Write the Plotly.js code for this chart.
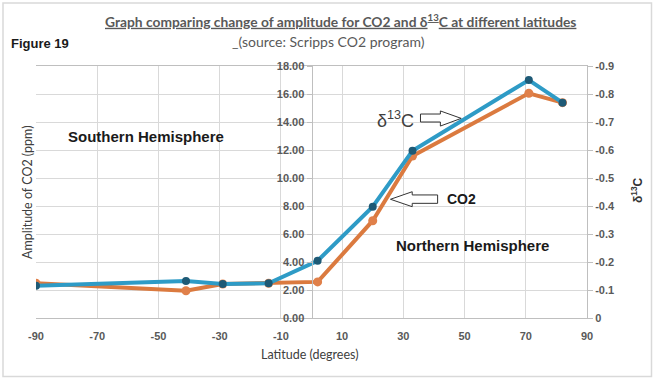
<!DOCTYPE html>
<html>
<head>
<meta charset="utf-8">
<script src="https://cdn.plot.ly/plotly-3.0.1.min.js"></script>
<style>html,body{margin:0;padding:0;background:#fff;}#chart{width:654px;height:379px;}</style>
</head>
<body>
<div id="chart"></div>
<script>
// Latitude (degrees) of each station
const latitude = [-90, -41, -29, -14, 2, 20, 33, 71, 82];
// Amplitude of CO2 (ppm) – left axis
const co2Amplitude = [2.48, 1.95, 2.43, 2.48, 2.58, 6.95, 11.57, 16.05, 15.38];
// Amplitude of δ13C – right axis
const d13cAmplitude = [-0.1155, -0.132, -0.1215, -0.124, -0.2045, -0.3975, -0.5975, -0.85, -0.769];
// Tick labels
const xTickVals = [-90, -70, -50, -30, -10, 10, 30, 50, 70, 90];
const xTickText = ['-90', '-70', '-50', '-30', '-10', '10', '30', '50', '70', '90'];
const yTickVals = [0, 2, 4, 6, 8, 10, 12, 14, 16, 18];
const yTickText = ['0.00', '2.00', '4.00', '6.00', '8.00', '10.00', '12.00', '14.00', '16.00', '18.00'];
const y2TickVals = [0, -0.1, -0.2, -0.3, -0.4, -0.5, -0.6, -0.7, -0.8, -0.9];
const y2TickText = ['0', '-0.1', '-0.2', '-0.3', '-0.4', '-0.5', '-0.6', '-0.7', '-0.8', '-0.9'];

const W = 654, H = 379, L = 36, R = 67, T = 66, B = 61;
const pw = W - L - R, ph = H - T - B;
const px = p => (p - L) / pw;          // pixel x -> paper
const py = p => (H - B - p) / ph;      // pixel y -> paper

const narrow = 'Lato, "Open Sans", sans-serif';
const arial = '"Liberation Sans", Arial, sans-serif';
const tickFont = {family: arial, size: 11, color: '#595959', weight: 'bold'};

const traces = [
  {
    x: latitude, y: d13cAmplitude, yaxis: 'y2', type: 'scatter', mode: 'lines+markers',
    name: 'δ13C', line: {color: '#2e9bc6', width: 4},
    marker: {color: '#1e5a76', size: 8}
  },
  {
    x: latitude, y: co2Amplitude, yaxis: 'y', type: 'scatter', mode: 'lines+markers',
    name: 'CO2', line: {color: '#db7a3f', width: 4},
    marker: {color: '#e0804a', size: 9}
  }
];

function arrowPath(pts) {
  return 'M' + pts.map(p => p[0] + ',' + p[1]).join(' L') + ' Z';
}

const layout = {
  width: W, height: H,
  margin: {l: L, r: R, t: T, b: B, pad: 0},
  paper_bgcolor: '#ffffff', plot_bgcolor: '#ffffff',
  showlegend: false,
  xaxis: {
    range: [-90, 90], tickvals: xTickVals, ticktext: xTickText,
    showgrid: true, gridcolor: '#d9d9d9', gridwidth: 1,
    zeroline: false, showline: true, linecolor: '#bfbfbf', mirror: true,
    ticks: '', ticklabelstandoff: 8, tickfont: tickFont, fixedrange: true
  },
  yaxis: {
    range: [0, 18], tickvals: yTickVals, ticktext: yTickText,
    anchor: 'free', position: 0.5,
    showgrid: true, gridcolor: '#d9d9d9', gridwidth: 1,
    zeroline: false, showline: true, linecolor: '#bfbfbf',
    ticks: 'outside', ticklen: 5, tickcolor: '#bfbfbf', tickfont: tickFont
  },
  yaxis2: {
    range: [0, -0.9], tickvals: y2TickVals, ticktext: y2TickText,
    overlaying: 'y', side: 'right', anchor: 'x',
    showgrid: false, zeroline: false, showline: true, linecolor: '#bfbfbf',
    ticks: 'outside', ticklen: 5, tickcolor: '#bfbfbf', tickfont: tickFont
  },
  shapes: [
    {type: 'rect', xref: 'paper', yref: 'paper', x0: px(3), x1: px(651.5), y0: py(376.5), y1: py(3),
     line: {color: '#d9d9d9', width: 1.5}, layer: 'below'},
    {type: 'path', xref: 'x', yref: 'y', line: {color: '#333333', width: 1}, fillcolor: '#ffffff',
     path: arrowPath([[35.6, 14.57], [42.1, 14.57], [42.1, 14.79], [48.9, 14.26], [42.1, 13.71], [42.1, 14.0], [35.6, 14.0]])},
    {type: 'path', xref: 'x', yref: 'y', line: {color: '#333333', width: 1}, fillcolor: '#ffffff',
     path: arrowPath([[25.8, 8.48], [32.9, 9.02], [32.9, 8.79], [41.2, 8.79], [41.2, 8.19], [32.9, 8.19], [32.9, 7.95]])}
  ],
  annotations: [
    {text: '<u>Graph comparing change of amplitude for CO2 and δ<sup>13</sup>C at different latitudes</u>',
     xref: 'paper', yref: 'paper', x: px(340.5), y: py(21), xanchor: 'center', yanchor: 'middle', showarrow: false,
     font: {family: narrow, size: 13.8, color: '#595959', weight: 'bold'}},
    {text: '_(source: Scripps CO2 program)',
     xref: 'paper', yref: 'paper', x: px(328), y: py(42), xanchor: 'center', yanchor: 'middle', showarrow: false,
     font: {family: narrow, size: 14, color: '#595959'}},
    {text: '<b>Figure 19</b>',
     xref: 'paper', yref: 'paper', x: px(9), y: py(43), xanchor: 'left', yanchor: 'middle', showarrow: false,
     font: {family: arial, size: 13, color: '#1a1a1a'}},
    {text: 'Amplitude of CO2 (ppm)',
     xref: 'paper', yref: 'paper', x: px(27), y: py(192), xanchor: 'center', yanchor: 'middle', textangle: -90, showarrow: false,
     font: {family: narrow, size: 12.5, color: '#404040'}},
    {text: 'Latitude (degrees)',
     xref: 'paper', yref: 'paper', x: px(310), y: py(354), xanchor: 'center', yanchor: 'middle', showarrow: false,
     font: {family: narrow, size: 12.5, color: '#404040'}},
    {text: '<b>δ<sup>13</sup>C</b>',
     xref: 'paper', yref: 'paper', x: px(637), y: py(190), xanchor: 'center', yanchor: 'middle', textangle: -90, showarrow: false,
     font: {family: arial, size: 12, color: '#333333'}},
    {text: '<b>Southern Hemisphere</b>', xref: 'x', yref: 'y', x: -54.05, y: 12.93, showarrow: false,
     font: {family: arial, size: 15, color: '#1a1a1a'}},
    {text: '<b>Northern Hemisphere</b>', xref: 'x', yref: 'y', x: 52.5, y: 5.16, showarrow: false,
     font: {family: arial, size: 15, color: '#1a1a1a'}},
    {text: 'δ<sup>13</sup>C', xref: 'x', yref: 'y', x: 27.5, y: 14.2, showarrow: false,
     font: {family: arial, size: 18, color: '#404040'}},
    {text: '<b>CO2</b>', xref: 'x', yref: 'y', x: 49.1, y: 8.48, showarrow: false,
     font: {family: arial, size: 14, color: '#1a1a1a'}}
  ]
};

Plotly.newPlot('chart', traces, layout, {displayModeBar: false, staticPlot: true});
</script>
</body>
</html>
